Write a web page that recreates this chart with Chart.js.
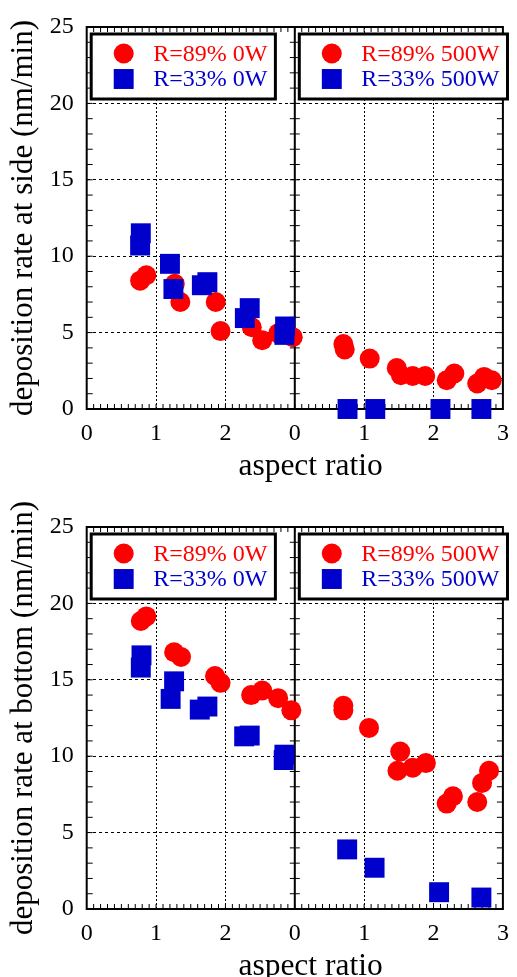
<!DOCTYPE html>
<html>
<head>
<meta charset="utf-8">
<script src="https://cdn.jsdelivr.net/npm/chart.js@4/dist/chart.umd.min.js"></script>
<style>
  html, body { margin: 0; padding: 0; background: #fff; overflow: hidden; }
  canvas { position: absolute; left: 0; }
  #side { top: 0; }
  #bottom { top: 500px; }
</style>
</head>
<body>
<canvas id="side" width="517" height="500"></canvas>
<canvas id="bottom" width="517" height="500"></canvas>
<script>
const FONT = "'Liberation Serif', 'DejaVu Serif', serif";
const RED = '#ff0000';
const BLUE = '#0000cc';
const PANEL_WIDTH = 3; // each panel spans aspect ratio 0..3, the 500W panel sits right of the 0W one

// [aspect ratio, deposition rate (nm/min)]
const sideR89_0W = [[0.77, 8.4], [0.86, 8.75], [1.27, 8.2], [1.35, 7.0], [1.86, 7.0], [1.93, 5.1], [2.38, 5.35], [2.53, 4.5], [2.76, 4.95], [2.97, 4.7]];
const sideR33_0W = [[0.78, 11.5], [0.77, 10.7], [1.2, 9.5], [1.25, 7.85], [1.66, 8.1], [1.74, 8.3], [2.28, 5.95], [2.35, 6.6], [2.86, 5.4], [2.85, 4.85]];
const sideR89_500W = [[0.70, 4.25], [0.72, 3.9], [1.08, 3.3], [1.47, 2.68], [1.53, 2.21], [1.70, 2.16], [1.88, 2.16], [2.19, 1.88], [2.30, 2.32], [2.63, 1.67], [2.73, 2.1], [2.84, 1.88]];
const sideR33_500W = [[0.76, 0], [1.16, 0], [2.10, 0], [2.69, 0]];

const bottomR89_0W = [[0.78, 18.85], [0.86, 19.15], [1.26, 16.8], [1.36, 16.5], [1.85, 15.25], [1.93, 14.8], [2.37, 14.0], [2.53, 14.3], [2.76, 13.8], [2.95, 13.0]];
const bottomR33_0W = [[0.79, 16.6], [0.78, 15.8], [1.26, 14.9], [1.21, 13.75], [1.63, 13.05], [1.74, 13.25], [2.27, 11.3], [2.35, 11.35], [2.85, 10.1], [2.84, 9.75]];
const bottomR89_500W = [[0.70, 13.3], [0.70, 13.0], [1.07, 11.85], [1.52, 10.3], [1.48, 9.05], [1.70, 9.25], [1.89, 9.55], [2.19, 6.9], [2.28, 7.38], [2.63, 7.0], [2.70, 8.25], [2.80, 9.05]];
const bottomR33_500W = [[0.755, 3.9], [1.15, 2.7], [2.08, 1.1], [2.69, 0.75]];

const xTickLabels = ['0', '1', '2', '0', '1', '2', '3'];
const yTickValues = [0, 5, 10, 15, 20, 25];
const seriesLabels = ['R=89% 0W', 'R=33% 0W', 'R=89% 500W', 'R=33% 500W'];

function series(points, shift, label, color, style) {
  return {
    label,
    panel: shift,
    data: points.map(([x, y]) => ({ x: x + shift, y })),
    pointStyle: style,
    pointRadius: style === 'circle' ? 10 : 14.1,
    pointHoverRadius: style === 'circle' ? 10 : 14.1,
    pointBackgroundColor: color,
    pointBorderColor: color,
    pointBorderWidth: 0,
    clip: false
  };
}

function buildDatasets(r89_0, r33_0, r89_500, r33_500) {
  // first dataset is drawn on top, so squares go first
  return [
    series(r33_0, 0, seriesLabels[1], BLUE, 'rect'),
    series(r33_500, PANEL_WIDTH, seriesLabels[3], BLUE, 'rect'),
    series(r89_0, 0, seriesLabels[0], RED, 'circle'),
    series(r89_500, PANEL_WIDTH, seriesLabels[2], RED, 'circle')
  ];
}

const framePlugin = {
  id: 'frame',
  beforeDatasetsDraw(chart) {
    const { ctx, chartArea: { left, right, top, bottom }, scales: { x, y } } = chart;
    const mid = x.getPixelForValue(PANEL_WIDTH);
    ctx.save();
    ctx.strokeStyle = '#000';
    ctx.lineWidth = 1;
    ctx.beginPath();
    // minor ticks, pointing inward
    for (let v = 1; v < PANEL_WIDTH * 20; v++) {
      const px = x.getPixelForValue(v / 10);
      ctx.moveTo(px, bottom); ctx.lineTo(px, bottom - 5);
      ctx.moveTo(px, top); ctx.lineTo(px, top + 5);
    }
    for (let v = 1; v < 25; v++) {
      const py = y.getPixelForValue(v);
      ctx.moveTo(left, py); ctx.lineTo(left + 6, py);
      ctx.moveTo(right, py); ctx.lineTo(right - 6, py);
      ctx.moveTo(mid - 5, py); ctx.lineTo(mid + 5, py);
    }
    ctx.stroke();
    ctx.lineWidth = 2;
    ctx.strokeRect(left, top, right - left, bottom - top);
    ctx.beginPath();
    ctx.moveTo(mid, top);
    ctx.lineTo(mid, bottom);
    ctx.stroke();
    ctx.restore();
  }
};

const legendPlugin = {
  id: 'panelLegends',
  afterDraw(chart) {
    const { ctx, chartArea: { top }, scales: { x } } = chart;
    ctx.save();
    ctx.font = '24px ' + FONT;
    ctx.textBaseline = 'middle';
    for (const shift of [0, PANEL_WIDTH]) {
      const items = chart.data.datasets.filter(d => d.panel === shift)
        .sort((a, b) => (a.pointStyle === 'circle' ? -1 : 1));
      const textW = Math.max(...items.map(d => ctx.measureText(d.label).width));
      const bx = x.getPixelForValue(shift) + 4.5;
      const by = top + 7;
      const bw = 62 + textW + 8;
      const bh = 65;
      ctx.fillStyle = '#fff';
      ctx.fillRect(bx, by, bw, bh);
      ctx.lineWidth = 3;
      ctx.strokeStyle = '#000';
      ctx.strokeRect(bx, by, bw, bh);
      items.forEach((d, i) => {
        const cy = by + 19.5 + i * 25.5;
        ctx.fillStyle = d.pointBackgroundColor;
        Chart.helpers.drawPoint(ctx, { pointStyle: d.pointStyle, radius: d.pointRadius, borderWidth: 0, rotation: 0 }, bx + 32.5, cy);
        ctx.fillText(d.label, bx + 62, cy + 1);
      });
    }
    ctx.restore();
  }
};

function makeChart(canvasId, yTitle, datasets) {
  return new Chart(document.getElementById(canvasId), {
    type: 'scatter',
    data: { datasets },
    options: {
      responsive: false,
      animation: false,
      events: [],
      layout: { padding: { top: 27, right: 5.3, bottom: 0, left: 0 } },
      plugins: {
        legend: { display: false },
        tooltip: { enabled: false }
      },
      scales: {
        x: {
          type: 'linear',
          min: 0,
          max: PANEL_WIDTH * 2,
          afterBuildTicks: s => { s.ticks = xTickLabels.map((_, i) => ({ value: i })); },
          ticks: {
            autoSkip: false,
            maxRotation: 0,
            padding: 10.5,
            color: '#000',
            font: { family: FONT, size: 24 },
            callback: (v, i) => xTickLabels[i]
          },
          grid: {
            drawTicks: false,
            lineWidth: 1,
            color: c => (c.tick && c.tick.value % PANEL_WIDTH !== 0) ? '#000' : 'rgba(0,0,0,0)'
          },
          border: { display: false, dash: [2, 2] },
          title: {
            display: true,
            text: '\u00a0\u00a0\u00a0\u00a0aspect ratio',
            color: '#000',
            font: { family: FONT, size: 31.5 },
            padding: { top: 0, bottom: 14.3 }
          },
          afterFit: s => { s.height = 91; s.paddingLeft = 0; s.paddingRight = 0; }
        },
        y: {
          min: 0,
          max: 25,
          afterBuildTicks: s => { s.ticks = yTickValues.map(v => ({ value: v })); },
          ticks: {
            padding: 13,
            color: '#000',
            font: { family: FONT, size: 24 }
          },
          grid: {
            drawTicks: false,
            lineWidth: 1,
            color: c => (c.tick && c.tick.value > 0 && c.tick.value < 25) ? '#000' : 'rgba(0,0,0,0)'
          },
          border: { display: false, dash: [3, 3] },
          title: {
            display: true,
            text: yTitle,
            color: '#000',
            font: { family: FONT, size: 31 },
            padding: { top: 5.4, bottom: 0 }
          },
          afterFit: s => { s.width = 86.7; s.paddingTop = 0; s.paddingBottom = 0; }
        }
      }
    },
    plugins: [framePlugin, legendPlugin]
  });
}

makeChart('side', 'deposition rate at side (nm/min)',
  buildDatasets(sideR89_0W, sideR33_0W, sideR89_500W, sideR33_500W));
makeChart('bottom', 'deposition rate at bottom (nm/min)',
  buildDatasets(bottomR89_0W, bottomR33_0W, bottomR89_500W, bottomR33_500W));
</script>
</body>
</html>
